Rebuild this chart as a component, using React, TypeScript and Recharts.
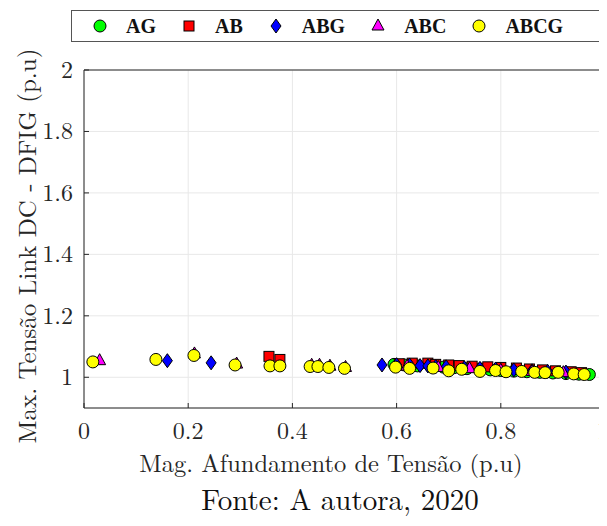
import React from 'react';
import { ScatterChart, Scatter, XAxis, YAxis, CartesianGrid } from 'recharts';

const FONT = '"Latin Modern Roman", "Liberation Serif", serif';
const LEGEND_FONT = '"Liberation Serif", serif';
const INK = '#262626';

const xTicks = [0, 0.2, 0.4, 0.6, 0.8, 1];
const yTicks = [1, 1.2, 1.4, 1.6, 1.8, 2];

// pontos (x = magnitude do afundamento, y = tensão máx. do link DC)
const agData = [
  { x: 0.595, y: 1.042 }, { x: 0.615, y: 1.04 }, { x: 0.64, y: 1.037 }, { x: 0.665, y: 1.036 },
  { x: 0.69, y: 1.033 }, { x: 0.71, y: 1.031 }, { x: 0.735, y: 1.028 }, { x: 0.76, y: 1.027 },
  { x: 0.78, y: 1.024 }, { x: 0.8, y: 1.022 }, { x: 0.825, y: 1.02 }, { x: 0.85, y: 1.018 },
  { x: 0.875, y: 1.016 }, { x: 0.9, y: 1.014 }, { x: 0.925, y: 1.012 }, { x: 0.95, y: 1.01 },
  { x: 0.97, y: 1.009 },
];
const abData = [
  { x: 0.355, y: 1.068 }, { x: 0.376, y: 1.058 },
  { x: 0.605, y: 1.044 }, { x: 0.63, y: 1.046 }, { x: 0.66, y: 1.046 }, { x: 0.675, y: 1.042 },
  { x: 0.7, y: 1.04 }, { x: 0.72, y: 1.038 }, { x: 0.745, y: 1.036 }, { x: 0.775, y: 1.034 },
  { x: 0.8, y: 1.032 }, { x: 0.83, y: 1.03 }, { x: 0.855, y: 1.027 }, { x: 0.88, y: 1.024 },
  { x: 0.905, y: 1.021 }, { x: 0.935, y: 1.018 }, { x: 0.955, y: 1.015 },
];
const abgData = [
  { x: 0.16, y: 1.054 }, { x: 0.244, y: 1.047 }, { x: 0.572, y: 1.04 },
  { x: 0.6, y: 1.041 }, { x: 0.625, y: 1.04 }, { x: 0.645, y: 1.038 }, { x: 0.66, y: 1.037 },
  { x: 0.675, y: 1.035 }, { x: 0.695, y: 1.034 }, { x: 0.73, y: 1.031 }, { x: 0.76, y: 1.029 },
  { x: 0.79, y: 1.027 }, { x: 0.825, y: 1.024 }, { x: 0.86, y: 1.021 }, { x: 0.89, y: 1.019 },
  { x: 0.925, y: 1.017 },
];
const abcData = [
  { x: 0.03, y: 1.054 }, { x: 0.212, y: 1.076 }, { x: 0.293, y: 1.043 },
  { x: 0.437, y: 1.039 }, { x: 0.452, y: 1.039 }, { x: 0.472, y: 1.036 }, { x: 0.502, y: 1.032 },
  { x: 0.62, y: 1.036 }, { x: 0.68, y: 1.032 }, { x: 0.74, y: 1.028 }, { x: 0.8, y: 1.023 },
  { x: 0.86, y: 1.019 }, { x: 0.92, y: 1.015 },
];
const abcgData = [
  { x: 0.017, y: 1.05 }, { x: 0.138, y: 1.058 }, { x: 0.211, y: 1.071 }, { x: 0.29, y: 1.04 },
  { x: 0.357, y: 1.037 }, { x: 0.376, y: 1.037 }, { x: 0.434, y: 1.035 }, { x: 0.449, y: 1.035 },
  { x: 0.47, y: 1.032 }, { x: 0.5, y: 1.029 },
  { x: 0.598, y: 1.033 }, { x: 0.625, y: 1.029 }, { x: 0.67, y: 1.03 }, { x: 0.7, y: 1.021 },
  { x: 0.725, y: 1.026 }, { x: 0.76, y: 1.019 }, { x: 0.79, y: 1.022 }, { x: 0.81, y: 1.018 },
  { x: 0.84, y: 1.019 }, { x: 0.865, y: 1.016 }, { x: 0.885, y: 1.015 }, { x: 0.91, y: 1.016 },
  { x: 0.94, y: 1.011 }, { x: 0.96, y: 1.009 },
];

const series = [
  { name: 'AG', color: '#00ff00', kind: 'circle', data: agData },
  { name: 'AB', color: '#ff0000', kind: 'square', data: abData },
  { name: 'ABG', color: '#0000ff', kind: 'diamond', data: abgData },
  { name: 'ABC', color: '#ff00ff', kind: 'triangle', data: abcData },
  { name: 'ABCG', color: '#ffff00', kind: 'circle', data: abcgData },
];

function Marker({ cx, cy, kind, fill }: { cx: number; cy: number; kind: string; fill: string }) {
  const common = { fill, stroke: '#000', strokeWidth: 1 };
  if (kind === 'square') return <rect x={cx - 5} y={cy - 5} width={10} height={10} {...common} />;
  if (kind === 'diamond')
    return <polygon points={`${cx},${cy - 7} ${cx + 5},${cy} ${cx},${cy + 7} ${cx - 5},${cy}`} {...common} />;
  if (kind === 'triangle')
    return <polygon points={`${cx},${cy - 7} ${cx + 6},${cy + 4} ${cx - 6},${cy + 4}`} {...common} />;
  return <circle cx={cx} cy={cy} r={6} {...common} />;
}

const GAP = 8;
const BottomTick = ({ x, y, payload }: any) => (
  <g>
    <line x1={x} x2={x} y1={y - GAP} y2={y - GAP - 5} stroke={INK} />
    <text x={x} y={y} dy="0.95em" textAnchor="middle" fontSize={24} fontFamily={FONT} fill={INK}>
      {String(payload.value)}
    </text>
  </g>
);
const LeftTick = ({ x, y, payload }: any) => (
  <g>
    <line x1={x + GAP} x2={x + GAP + 5} y1={y} y2={y} stroke={INK} />
    <text x={x - 3} y={y} dy="0.33em" textAnchor="end" fontSize={24} fontFamily={FONT} fill={INK}>
      {String(payload.value)}
    </text>
  </g>
);
const TopTick = ({ x, y }: any) => <line x1={x} x2={x} y1={y} y2={y + 5} stroke={INK} />;
const RightTick = ({ x, y }: any) => <line x1={x} x2={x - 5} y1={y} y2={y} stroke={INK} />;

export default function App() {
  return (
    <div style={{ position: 'relative', width: 607, height: 526, margin: -8, background: '#fff' }}>
      <ScatterChart width={607} height={526} margin={{ top: 69, right: 1, bottom: 88, left: 24 }}>
        <CartesianGrid stroke="#e8e8e8" strokeWidth={1} />
        <XAxis
          type="number"
          dataKey="x"
          domain={[0, 1]}
          ticks={xTicks}
          height={30}
          tickSize={0}
          tickLine={false}
          tickMargin={GAP}
          axisLine={{ stroke: INK }}
          tick={<BottomTick />}
        />
        <XAxis
          xAxisId="top"
          orientation="top"
          type="number"
          domain={[0, 1]}
          ticks={xTicks}
          height={1}
          tickSize={0}
          tickLine={false}
          tickMargin={0}
          axisLine={{ stroke: INK }}
          tick={<TopTick />}
        />
        <YAxis
          type="number"
          dataKey="y"
          domain={[0.9, 2]}
          ticks={yTicks}
          width={60}
          tickSize={0}
          tickLine={false}
          tickMargin={GAP}
          axisLine={{ stroke: INK }}
          tick={<LeftTick />}
        />
        <YAxis
          yAxisId="right"
          orientation="right"
          type="number"
          domain={[0.9, 2]}
          ticks={yTicks}
          width={1}
          tickSize={0}
          tickLine={false}
          tickMargin={0}
          axisLine={{ stroke: INK }}
          tick={<RightTick />}
        />
        {series.map(s => (
          <Scatter
            key={s.name}
            name={s.name}
            data={s.data}
            fill={s.color}
            isAnimationActive={false}
            shape={(p: any) => <Marker cx={p.cx} cy={p.cy} kind={s.kind} fill={s.color} />}
          />
        ))}
      </ScatterChart>

      {/* legenda no topo */}
      <div
        style={{
          position: 'absolute',
          left: 71,
          top: 10,
          width: 532,
          height: 30,
          border: '1.5px solid #555',
          display: 'flex',
          alignItems: 'center',
          fontFamily: LEGEND_FONT,
          fontWeight: 'bold',
          fontSize: 20,
          color: '#111',
        }}
      >
        {series.map((s, i) => (
          <div key={s.name} style={{ display: 'flex', alignItems: 'center', marginLeft: i === 0 ? 20 : 25 }}>
            <svg width={16} height={16}>
              <Marker cx={8} cy={8} kind={s.kind} fill={s.color} />
            </svg>
            <span style={{ marginLeft: 18 }}>{s.name}</span>
          </div>
        ))}
      </div>

      <svg width={607} height={526} style={{ position: 'absolute', left: 0, top: 0, pointerEvents: 'none' }}>
        <text x={331} y={472} textAnchor="middle" fontSize={24.5} fontFamily={FONT} fill={INK}>
          Mag. Afundamento de Tensão (p.u)
        </text>
        <text
          transform="translate(36, 246) rotate(-90)"
          textAnchor="middle"
          fontSize={25}
          fontFamily={FONT}
          fill={INK}
        >
          Max. Tensão Link DC - DFIG (p.u)
        </text>
        <text x={340} y={510} textAnchor="middle" fontSize={29} fontFamily={FONT} fill="#111">
          Fonte: A autora, 2020
        </text>
      </svg>
    </div>
  );
}
